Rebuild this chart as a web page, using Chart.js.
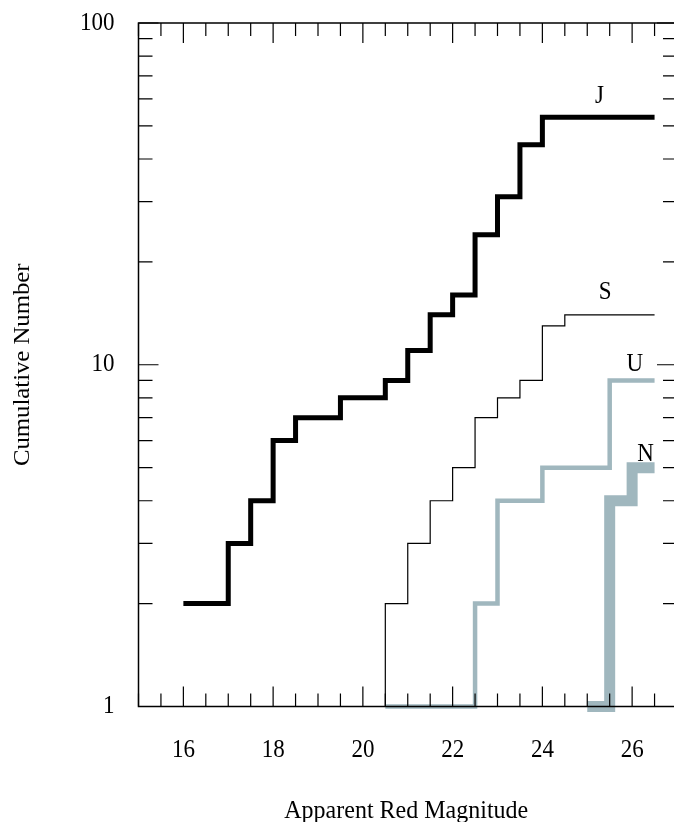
<!DOCTYPE html>
<html><head><meta charset="utf-8">
<script src="https://cdn.jsdelivr.net/npm/chart.js@4"></script>
<style>
html,body{margin:0;padding:0;background:#fff;overflow:hidden;width:674px;height:822px}
#wrap{position:relative;width:700px;height:822px}
</style>
</head><body>
<div id="wrap"><canvas id="c"></canvas></div>
<script>
// ---- data ----
const jMag   = [16, 17, 17.5, 18, 18.5, 19.5, 20.5, 21, 21.5, 22, 22.5, 23, 23.5, 24, 26.5];
const jCount = [2, 3, 4, 6, 7, 8, 9, 11, 14, 16, 24, 31, 44, 53, 53];
const sMag   = [20.5, 20.5, 21, 21.5, 22, 22.5, 23, 23.5, 24, 24.5, 26.5];
const sCount = [1, 2, 3, 4, 5, 7, 8, 9, 13, 14, 14];
const uMag   = [20.5, 22.5, 23, 24, 25.5, 26.5];
const uCount = [1, 2, 4, 5, 9, 9];
const nMag   = [25, 25.5, 26, 26.5];
const nCount = [1, 4, 5, 5];
const xTickLabels = ['16', '18', '20', '22', '24', '26'];
const yTickLabels = ['1', '10', '100'];
const seriesNames = ['J', 'S', 'U', 'N'];
const xTitle = 'Apparent Red Magnitude';
const yTitle = 'Cumulative Number';

const pts = (xs, ys) => xs.map((v, i) => ({x: v, y: ys[i]}));
const GRAYBLUE = '#a0b7be';
const FONT = '"Liberation Serif", "Times New Roman", serif';

// label anchors (magnitude, count) for series names
const labelAnchors = {J: [25.27, 61], S: [25.4, 16.3], U: [26.06, 10], N: [26.3, 5.45]};

function stretchedText(ctx, t, px, py, sy) {
  ctx.save();
  ctx.translate(px, py);
  ctx.scale(1, sy);
  ctx.fillText(t, 0, 0);
  ctx.restore();
}

const framePlugin = {
  id: 'frame',
  afterDatasetsDraw(chart) {
    const {ctx, chartArea: a, scales: {x, y}} = chart;
    ctx.save();
    ctx.strokeStyle = '#000';
    ctx.lineWidth = 1.5;
    ctx.strokeRect(a.left, a.top, a.right - a.left, a.bottom - a.top);
    ctx.lineWidth = 1.2;
    ctx.beginPath();
    for (let v = x.min; v <= x.max + 1e-6; v += 0.5) {
      const px = x.getPixelForValue(v);
      const len = (Math.abs(v % 2) < 1e-6) ? 20 : 13;
      ctx.moveTo(px, a.bottom); ctx.lineTo(px, a.bottom - len);
      ctx.moveTo(px, a.top); ctx.lineTo(px, a.top + len);
    }
    for (const d of [1, 10]) {
      for (let k = 1; k <= 10; k++) {
        const v = d * k;
        const py = y.getPixelForValue(v);
        const len = (k === 1 || k === 10) ? 20 : 14;
        ctx.moveTo(a.left, py); ctx.lineTo(a.left + len, py);
        ctx.moveTo(a.right, py); ctx.lineTo(a.right - len, py);
      }
    }
    ctx.stroke();

    ctx.fillStyle = '#000';
    ctx.font = '23px ' + FONT;
    ctx.textAlign = 'center';
    ctx.textBaseline = 'middle';
    xTickLabels.forEach(t => stretchedText(ctx, t, x.getPixelForValue(+t), a.bottom + 44, 1.1));
    ctx.textAlign = 'right';
    yTickLabels.forEach(t => stretchedText(ctx, t, a.left - 24, y.getPixelForValue(+t), 1.1));

    ctx.font = '24px ' + FONT;
    ctx.textAlign = 'center';
    stretchedText(ctx, xTitle, (a.left + 674) / 2, a.bottom + 105, 1.05);
    ctx.save();
    ctx.translate(23, (a.top + a.bottom) / 2);
    ctx.rotate(-Math.PI / 2);
    ctx.scale(1.03, 1);
    ctx.fillText(yTitle, 0, 0);
    ctx.restore();

    ctx.font = '23px ' + FONT;
    seriesNames.forEach(n => {
      const [mx, cy] = labelAnchors[n];
      stretchedText(ctx, n, x.getPixelForValue(mx), y.getPixelForValue(cy), 1.1);
    });
    ctx.restore();
  }
};

const common = {stepped: 'before', pointRadius: 0, fill: false, clip: false,
                borderCapStyle: 'butt', borderJoinStyle: 'miter', tension: 0};

new Chart(document.getElementById('c'), {
  type: 'line',
  data: {
    datasets: [
      {...common, label: 'N', data: pts(nMag, nCount), borderColor: GRAYBLUE, borderWidth: 11},
      {...common, label: 'U', data: pts(uMag, uCount), borderColor: GRAYBLUE, borderWidth: 4.5},
      {...common, label: 'S', data: pts(sMag, sCount), borderColor: '#000', borderWidth: 1.2},
      {...common, label: 'J', data: pts(jMag, jCount), borderColor: '#000', borderWidth: 5}
    ]
  },
  options: {
    responsive: true,
    maintainAspectRatio: false,
    animation: false,
    events: [],
    layout: {padding: {left: 138.5, top: 23, right: 23, bottom: 115.5}},
    plugins: {legend: {display: false}, tooltip: {enabled: false}},
    scales: {
      x: {type: 'linear', min: 15, max: 27, display: false},
      y: {type: 'logarithmic', min: 1, max: 100, display: false}
    }
  },
  plugins: [framePlugin]
});
</script>
</body></html>
